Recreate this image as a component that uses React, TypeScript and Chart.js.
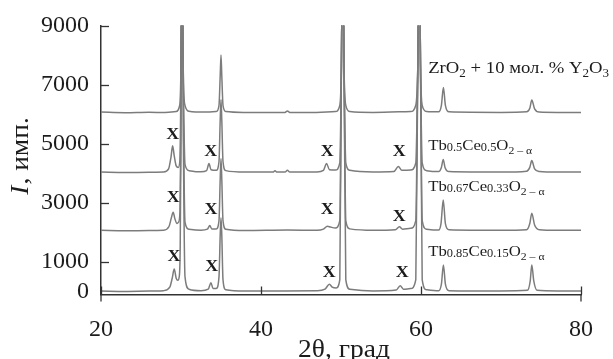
import React, { useEffect, useRef } from "react";
import { Chart, registerables } from "chart.js";

Chart.register(...registerables);

// ---------- data ----------
const xTicks = [20, 40, 60, 80];
const yTicks = [0, 1000, 3000, 5000, 7000, 9000];

// ZrO2 + 10 mol.% Y2O3 (offset ~6000)
const zrPts: [number, number][] = [
  [20, 6070], [23, 6050], [26, 6065], [28, 6055], [29.4, 6090], [29.8, 6260], [29.97, 7200],
  [30.06, 9800], [30.2, 9800], [30.3, 7200], [30.5, 6300], [31, 6100], [33, 6070], [34.4, 6090],
  [34.75, 6300], [34.9, 7300], [35.0, 8000], [35.1, 7300], [35.25, 6300], [35.6, 6090], [38, 6060],
  [41, 6055], [43.0, 6060], [43.3, 6110], [43.6, 6060], [46, 6055], [49.3, 6090], [49.85, 6300],
  [50.05, 7600], [50.13, 9800], [50.3, 9800], [50.38, 7600], [50.6, 6300], [51.1, 6090], [54, 6060],
  [58.7, 6090], [59.35, 6300], [59.6, 7600], [59.7, 9800], [59.86, 9800], [59.94, 7600], [60.15, 6300],
  [60.7, 6090], [62.2, 6080], [62.55, 6300], [62.8, 6900], [63.05, 6300], [63.5, 6080], [70, 6060],
  [73.2, 6080], [73.6, 6200], [73.85, 6480], [74.2, 6180], [74.8, 6070], [77, 6060], [80, 6060],
];

// Tb0.5Ce0.5O2-a (offset ~4000)
const tb50Pts: [number, number][] = [
  [20, 4040], [23, 4025], [26, 4035], [27.8, 4045], [28.45, 4150], [28.75, 4550], [28.95, 4930],
  [29.15, 4600], [29.4, 4250], [29.65, 4200], [29.85, 4400], [29.97, 6500], [30.05, 9800], [30.2, 9800],
  [30.3, 7000], [30.5, 4300], [31, 4090], [32.5, 4050], [33.2, 4090], [33.5, 4330], [33.75, 4120],
  [34.4, 4100], [34.75, 4400], [34.9, 5800], [35.0, 6500], [35.1, 5800], [35.25, 4400], [35.6, 4090],
  [38, 4040], [41.5, 4040], [41.75, 4090], [42, 4040], [43.0, 4045], [43.3, 4100], [43.6, 4045],
  [47, 4045], [47.8, 4100], [48.2, 4330], [48.55, 4120], [49.3, 4110], [49.85, 4350], [50.05, 7600],
  [50.13, 9800], [50.3, 9800], [50.38, 7600], [50.6, 4350], [51.1, 4100], [54, 4045], [56.6, 4060],
  [57.17, 4230], [57.6, 4100], [58.7, 4110], [59.35, 4350], [59.6, 7600], [59.7, 9800], [59.86, 9800],
  [59.94, 7600], [60.15, 4350], [60.7, 4090], [62.2, 4060], [62.55, 4200], [62.78, 4470], [63.0, 4200],
  [63.5, 4060], [70, 4040], [73.2, 4070], [73.6, 4200], [73.85, 4430], [74.2, 4150], [74.8, 4060],
  [77, 4040], [80, 4045],
];

// Tb0.67Ce0.33O2-a (offset ~2000)
const tb67Pts: [number, number][] = [
  [20, 2070], [23, 2055], [26, 2065], [27.8, 2075], [28.5, 2200], [28.8, 2500], [29.02, 2680],
  [29.25, 2450], [29.5, 2300], [29.7, 2350], [29.87, 2700], [29.97, 5000], [30.05, 9800], [30.2, 9800],
  [30.3, 6000], [30.5, 2350], [31, 2110], [32.5, 2075], [33.3, 2110], [33.6, 2230], [33.85, 2120],
  [34.4, 2120], [34.75, 2400], [34.9, 3800], [35.0, 4500], [35.1, 3800], [35.25, 2400], [35.6, 2110],
  [38, 2065], [43.3, 2080], [47, 2070], [47.8, 2110], [48.3, 2210], [48.7, 2180], [49.3, 2150],
  [49.85, 2400], [50.05, 7600], [50.13, 9800], [50.3, 9800], [50.38, 7600], [50.6, 2400], [51.1, 2120],
  [54, 2070], [56.8, 2090], [57.3, 2190], [57.7, 2110], [58.7, 2140], [59.35, 2400], [59.6, 7600],
  [59.7, 9800], [59.86, 9800], [59.94, 7600], [60.15, 2400], [60.7, 2110], [62.2, 2080], [62.5, 2300],
  [62.78, 3095], [63.05, 2300], [63.5, 2090], [70, 2070], [73.2, 2090], [73.6, 2300], [73.85, 2650],
  [74.2, 2250], [74.8, 2090], [77, 2070], [80, 2070],
];

// Tb0.85Ce0.15O2-a (offset ~0)
const tb85Pts: [number, number][] = [
  [20, 20], [23, 5], [26, 15], [27.8, 30], [28.6, 150], [28.9, 450], [29.15, 760], [29.4, 450],
  [29.6, 380], [29.78, 500], [29.9, 1500], [29.98, 4500], [30.06, 9800], [30.2, 9800], [30.3, 5000],
  [30.5, 500], [31, 80], [32.5, 30], [33.4, 80], [33.75, 300], [34.0, 100], [34.4, 100], [34.75, 500],
  [34.9, 1900], [35.0, 2500], [35.1, 1900], [35.25, 400], [35.6, 60], [38, 15], [43, 20], [47, 25],
  [48.0, 80], [48.55, 250], [48.9, 150], [49.4, 120], [49.85, 400], [50.05, 7600], [50.13, 9800],
  [50.3, 9800], [50.38, 7600], [50.6, 400], [51.1, 80], [54, 20], [56.9, 50], [57.4, 200], [57.8, 80],
  [58.7, 100], [59.35, 400], [59.6, 7600], [59.7, 9800], [59.86, 9800], [59.94, 7600], [60.15, 400],
  [60.7, 60], [62.2, 25], [62.55, 250], [62.8, 900], [63.05, 250], [63.5, 30], [70, 20], [73.3, 40],
  [73.65, 350], [73.85, 900], [74.1, 350], [74.5, 40], [77, 20], [80, 20],
];

// "X" markers (impurity phase reflections) per sample
const tb50Marks: [number, number][] = [[28.96, 5294], [33.71, 4729], [48.29, 4729], [57.29, 4729]];
const tb67Marks: [number, number][] = [[29.04, 3153], [33.75, 2757], [48.29, 2757], [57.29, 2530]];
const tb85Marks: [number, number][] = [[29.13, 1157], [33.84, 839], [48.54, 616], [57.66, 616]];

// sample labels as segments: n = normal, s = subscript, i = small index
type Seg = [string, "n" | "s" | "i"];
const zrLabel: Seg[] = [["ZrO", "n"], ["2", "s"], [" + 10 мол. % Y", "n"], ["2", "s"], ["O", "n"], ["3", "s"]];
const tb50Label: Seg[] = [["Tb", "n"], ["0.5", "i"], ["Ce", "n"], ["0.5", "i"], ["O", "n"], ["2", "s"], [" – α", "s"]];
const tb67Label: Seg[] = [["Tb", "n"], ["0.67", "i"], ["Ce", "n"], ["0.33", "i"], ["O", "n"], ["2", "s"], [" – α", "s"]];
const tb85Label: Seg[] = [["Tb", "n"], ["0.85", "i"], ["Ce", "n"], ["0.15", "i"], ["O", "n"], ["2", "s"], [" – α", "s"]];
const labelX = 60.9;
const labelYs = [7390, 4790, 3400, 1215];

const FONT = '"Liberation Serif", "Times New Roman", serif';
const TEXT = "#1c1c1c";
const LINE = "#7c7c7c";

function toXY(pts: [number, number][]) {
  return pts.map(([x, y]) => ({ x, y }));
}

const overlay = {
  id: "overlay",
  afterDraw(chart: any) {
    const { ctx, chartArea } = chart;
    const xs = chart.scales.x;
    const ys = chart.scales.y;
    ctx.save();
    // inward tick marks
    ctx.strokeStyle = "#333";
    ctx.lineWidth = 1.3;
    const seg = (a: number, b: number, c: number, d: number) => {
      ctx.beginPath();
      ctx.moveTo(a, b);
      ctx.lineTo(c, d);
      ctx.stroke();
    };
    yTicks.forEach((v) => {
      const py = Math.round(ys.getPixelForValue(v)) + 0.5;
      if (v !== 0) seg(chartArea.left, py, chartArea.left + 8, py);
    });
    xTicks.forEach((v) => {
      const px = Math.round(xs.getPixelForValue(v)) + 0.5;
      seg(px, chartArea.bottom, px, chartArea.bottom - 8);
    });
    seg(chartArea.left, chartArea.bottom, chartArea.left, chartArea.bottom + 7);
    seg(chartArea.right, chartArea.bottom, chartArea.right, chartArea.bottom + 7);

    // X markers
    ctx.fillStyle = TEXT;
    ctx.textAlign = "center";
    ctx.textBaseline = "middle";
    ctx.font = `bold 16px ${FONT}`;
    [...tb50Marks, ...tb67Marks, ...tb85Marks].forEach(([x, y]) => {
      ctx.save();
      ctx.translate(xs.getPixelForValue(x), ys.getPixelForValue(y));
      ctx.scale(1.12, 1);
      ctx.fillText("X", 0, 0);
      ctx.restore();
    });

    // sample labels
    const drawLabel = (segs: Seg[], yv: number, main: number, stretch: number) => {
      ctx.save();
      ctx.translate(xs.getPixelForValue(labelX), ys.getPixelForValue(yv));
      ctx.scale(stretch, 1);
      ctx.textAlign = "left";
      ctx.textBaseline = "alphabetic";
      let cx = 0;
      segs.forEach(([t, k]) => {
        let size = main;
        let dy = 0;
        if (k === "s") { size = main * 0.7; dy = main * 0.25; }
        if (k === "i") { size = main * 0.74; dy = main * 0.08; }
        ctx.font = `${size}px ${FONT}`;
        ctx.fillText(t, cx, dy);
        cx += ctx.measureText(t).width;
      });
      ctx.restore();
    };
    drawLabel(zrLabel, labelYs[0], 17, 1.1);
    drawLabel(tb50Label, labelYs[1], 15.5, 1.08);
    drawLabel(tb67Label, labelYs[2], 15.5, 1.08);
    drawLabel(tb85Label, labelYs[3], 15.5, 1.08);

    // x axis title
    ctx.save();
    ctx.translate(344, 357);
    ctx.scale(1.1, 1);
    ctx.textAlign = "center";
    ctx.textBaseline = "alphabetic";
    ctx.font = `25px ${FONT}`;
    ctx.fillText("2θ, град", 0, 0);
    ctx.restore();

    // y axis title (rotated)
    ctx.save();
    ctx.translate(28, 156);
    ctx.rotate(-Math.PI / 2);
    ctx.scale(1.1, 1);
    ctx.textBaseline = "alphabetic";
    ctx.textAlign = "left";
    const fI = `italic 25px ${FONT}`;
    const fR = `25px ${FONT}`;
    ctx.font = fI;
    const wI = ctx.measureText("I").width;
    ctx.font = fR;
    const rest = ", имп.";
    const wR = ctx.measureText(rest).width;
    const start = -(wI + wR + 1) / 2;
    ctx.font = fI;
    ctx.fillText("I", start, 0);
    ctx.font = fR;
    ctx.fillText(rest, start + wI + 1, 0);
    ctx.restore();

    ctx.restore();
  },
};

export default function App() {
  const ref = useRef<HTMLCanvasElement | null>(null);
  useEffect(() => {
    if (!ref.current) return;
    const mk = (pts: [number, number][]) => ({
      data: toXY(pts),
      borderColor: LINE,
      borderWidth: 1.5,
      pointRadius: 0,
      fill: false,
      cubicInterpolationMode: "monotone" as const,
    });
    const chart = new Chart(ref.current, {
      type: "line",
      data: {
        datasets: [mk(zrPts), mk(tb50Pts), mk(tb67Pts), mk(tb85Pts)],
      },
      options: {
        responsive: false,
        maintainAspectRatio: false,
        devicePixelRatio: 1,
        animation: false,
        events: [],
        layout: { padding: { top: 25.5, right: 32, left: 0, bottom: 0 } },
        plugins: { legend: { display: false }, tooltip: { enabled: false }, title: { display: false } },
        scales: {
          x: {
            type: "linear",
            min: 20,
            max: 80,
            afterBuildTicks: (s: any) => { s.ticks = xTicks.map((v) => ({ value: v })); },
            afterFit: (s: any) => { s.height = 64.5; },
            grid: { display: false },
            border: { display: true, color: "#333", width: 1.5 },
            ticks: {
              color: TEXT,
              font: { family: FONT, size: 24 },
              padding: 13,
              maxRotation: 0,
              autoSkip: false,
              callback: (v: any) => String(v),
            },
          },
          y: {
            type: "linear",
            min: -100,
            max: 9000,
            afterBuildTicks: (s: any) => { s.ticks = yTicks.map((v) => ({ value: v })); },
            afterFit: (s: any) => { s.width = 101; },
            grid: { display: false },
            border: { display: true, color: "#333", width: 1.5 },
            ticks: {
              color: TEXT,
              font: { family: FONT, size: 24 },
              padding: 4,
              autoSkip: false,
              callback: (v: any) => String(v),
            },
          },
        },
      },
      plugins: [overlay],
    });
    return () => chart.destroy();
  }, []);
  return (
    <div style={{ position: "fixed", left: 0, top: 0, width: 613, height: 359, background: "#fff" }}>
      <canvas ref={ref} width={613} height={359} style={{ width: 613, height: 359, display: "block" }} />
    </div>
  );
}
